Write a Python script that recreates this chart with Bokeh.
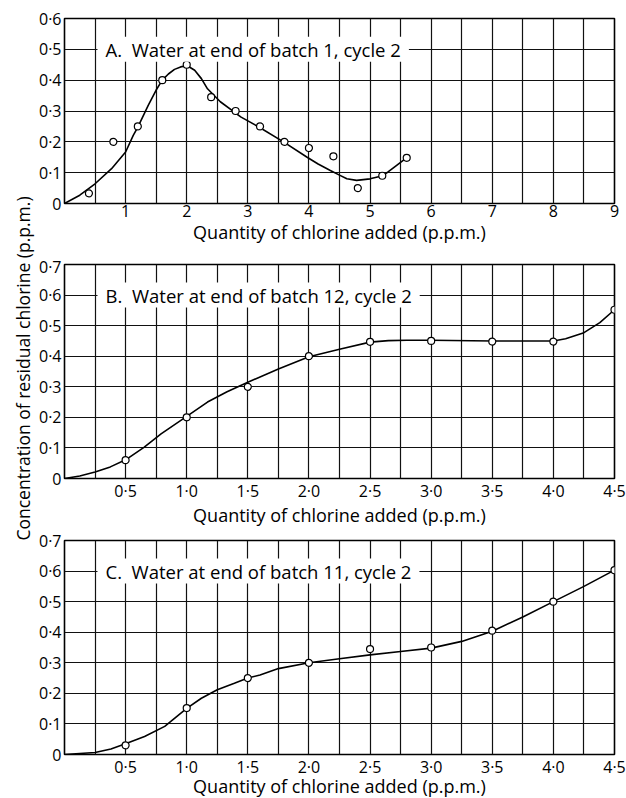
import math
from bokeh.plotting import figure
from bokeh.models import FixedTicker, Label, Range1d
from bokeh.layouts import column, row
from bokeh.embed import file_html
from bokeh.resources import INLINE

FONT = "Open Sans"
TICK_FS = "16px"
LABEL_FS = "18px"
TITLE_FS = "18.5px"
YLABEL_FS = "17.5px"

# ---------------- Data ----------------
# Panel A
a_title = "A.\u00a0 Water at end of batch 1, cycle 2"
a_x_pts = [0.4, 0.8, 1.2, 1.6, 2.0, 2.4, 2.8, 3.2, 3.6, 4.0, 4.4, 4.8, 5.2, 5.6]
a_y_pts = [0.033, 0.20, 0.25, 0.40, 0.45, 0.345, 0.30, 0.25, 0.20, 0.18, 0.153, 0.05, 0.09, 0.148]
a_x_curve = [0.0, 0.25, 0.5, 0.77, 1.0, 1.125, 1.2, 1.37, 1.5, 1.6, 1.7, 1.8, 1.9, 1.975, 2.05,
             2.13, 2.24, 2.34, 2.55, 2.78, 2.89, 3.18, 3.59, 3.97, 4.15, 4.35, 4.5, 4.62, 4.78,
             5.0, 5.19, 5.3, 5.43, 5.59]
a_y_curve = [0.0, 0.027, 0.064, 0.113, 0.167, 0.221, 0.248, 0.318, 0.368, 0.40, 0.42, 0.435,
             0.443, 0.446, 0.442, 0.432, 0.405, 0.372, 0.33, 0.296, 0.28, 0.248, 0.199, 0.150,
             0.128, 0.107, 0.092, 0.080, 0.075, 0.080, 0.089, 0.103, 0.123, 0.147]
a_x_ticks = [1, 2, 3, 4, 5, 6, 7, 8, 9]
a_x_labels = ["1", "2", "3", "4", "5", "6", "7", "8", "9"]
a_y_ticks = [0, 0.1, 0.2, 0.3, 0.4, 0.5, 0.6]
a_y_labels = ["0", "0·1", "0·2", "0·3", "0·4", "0·5", "0·6"]

# Panel B
b_title = "B.\u00a0 Water at end of batch 12, cycle 2"
b_x_pts = [0.5, 1.0, 1.5, 2.0, 2.5, 3.0, 3.5, 4.0, 4.5]
b_y_pts = [0.06, 0.20, 0.30, 0.40, 0.447, 0.45, 0.448, 0.448, 0.552]
b_x_curve = [0.0, 0.125, 0.25, 0.375, 0.5, 0.65, 0.79, 1.0, 1.17, 1.33, 1.5, 1.75, 2.0, 2.25,
             2.5, 2.65, 2.8, 3.0, 3.5, 4.0, 4.1, 4.25, 4.38, 4.5]
b_y_curve = [0.0, 0.008, 0.021, 0.038, 0.061, 0.102, 0.146, 0.203, 0.25, 0.284, 0.315, 0.358,
             0.398, 0.423, 0.446, 0.451, 0.452, 0.452, 0.45, 0.45, 0.457, 0.477, 0.51, 0.552]

# Panel C
c_title = "C.\u00a0 Water at end of batch 11, cycle 2"
c_x_pts = [0.5, 1.0, 1.5, 2.0, 2.5, 3.0, 3.5, 4.0, 4.5]
c_y_pts = [0.03, 0.152, 0.25, 0.30, 0.345, 0.35, 0.405, 0.50, 0.603]
c_x_curve = [0.0, 0.25, 0.38, 0.51, 0.655, 0.82, 1.0, 1.12, 1.25, 1.39, 1.5, 1.6, 1.75, 2.0,
             2.25, 2.5, 2.75, 3.0, 3.25, 3.5, 3.75, 4.0, 4.25, 4.5]
c_y_curve = [0.0, 0.0065, 0.018, 0.037, 0.059, 0.092, 0.151, 0.184, 0.212, 0.233, 0.25, 0.26,
             0.281, 0.30, 0.313, 0.326, 0.337, 0.348, 0.37, 0.403, 0.45, 0.50, 0.55, 0.603]

bc_x_ticks = [0.5, 1.0, 1.5, 2.0, 2.5, 3.0, 3.5, 4.0, 4.5]
bc_x_labels = ["0·5", "1·0", "1·5", "2·0", "2·5", "3·0", "3·5", "4·0", "4·5"]
bc_y_ticks = [0, 0.1, 0.2, 0.3, 0.4, 0.5, 0.6, 0.7]
bc_y_labels = ["0", "0·1", "0·2", "0·3", "0·4", "0·5", "0·6", "0·7"]

a_x_grid = [0.5 * i for i in range(1, 18)]
bc_x_grid = [0.25 * i for i in range(1, 18)]

x_axis_label = "Quantity of chlorine added (p.p.m.)"
y_axis_label = "Concentration of residual chlorine (p.p.m.)"


def make_panel(xmax, ymax, frame_h, top, bottom, x_ticks, x_labels, y_ticks, y_labels,
               x_grid, title, title_x, title_y, xs, ys, cx, cy, label_standoff):
    p = figure(frame_width=550, frame_height=frame_h,
               x_range=Range1d(0, xmax), y_range=Range1d(0, ymax),
               min_border_left=28, min_border_right=13,
               min_border_top=top, min_border_bottom=bottom,
               output_backend="svg", toolbar_location=None,
               background_fill_color="white", border_fill_color="white")
    p.outline_line_color = "black"
    p.outline_line_width = 1.6

    p.xaxis.ticker = FixedTicker(ticks=x_ticks)
    p.xaxis.major_label_overrides = {t: l for t, l in zip(x_ticks, x_labels)}
    p.yaxis.ticker = FixedTicker(ticks=y_ticks)
    p.yaxis.major_label_overrides = {t: l for t, l in zip(y_ticks, y_labels)}

    for ax in (p.xaxis, p.yaxis):
        ax.axis_line_color = None
        ax.major_tick_line_color = None
        ax.minor_tick_line_color = None
        ax.major_tick_out = 0
        ax.major_tick_in = 0
        ax.minor_tick_out = 0
        ax.minor_tick_in = 0
        ax.major_label_text_font = FONT
        ax.major_label_text_font_size = TICK_FS
        ax.major_label_text_color = "black"
        ax.axis_label_text_font = FONT
        ax.axis_label_text_font_size = LABEL_FS
        ax.axis_label_text_font_style = "normal"
        ax.axis_label_text_color = "black"
    p.xaxis.major_label_standoff = 1
    p.yaxis.major_label_standoff = 3
    p.xaxis.axis_label = x_axis_label
    p.xaxis.axis_label_standoff = label_standoff

    p.xgrid.ticker = FixedTicker(ticks=x_grid)
    p.ygrid.ticker = FixedTicker(ticks=y_ticks)
    for g in (p.xgrid, p.ygrid):
        g.grid_line_color = "#111111"
        g.grid_line_width = 1.2

    p.line(cx, cy, line_color="black", line_width=1.6)
    p.scatter(xs, ys, size=7, marker="circle", fill_color="white",
              line_color="black", line_width=1.2)

    p.add_layout(Label(x=title_x, y=title_y, text=title, text_font=FONT,
                       text_font_size=TITLE_FS, text_color="black",
                       text_baseline="middle", text_align="left",
                       background_fill_color="white", padding=(8, 0)))
    return p


pa = make_panel(9, 0.6, 185, 18, 52, a_x_ticks, a_x_labels, a_y_ticks, a_y_labels,
                a_x_grid, a_title, 0.54, 0.5, a_x_pts, a_y_pts, a_x_curve, a_y_curve, 0)
pb = make_panel(4.5, 0.7, 214, 9, 50, bc_x_ticks, bc_x_labels, bc_y_ticks, bc_y_labels,
                bc_x_grid, b_title, 0.27, 0.6, b_x_pts, b_y_pts, b_x_curve, b_y_curve, -2)
pc = make_panel(4.5, 0.7, 214, 11, 45, bc_x_ticks, bc_x_labels, bc_y_ticks, bc_y_labels,
                bc_x_grid, c_title, 0.27, 0.6, c_x_pts, c_y_pts, c_x_curve, c_y_curve, -7)

# shared y-axis label in a narrow strip on the left
lf = figure(width=35, height=798, x_range=Range1d(0, 35), y_range=Range1d(0, 798),
            x_axis_type=None, y_axis_type=None, min_border=0,
            output_backend="svg", toolbar_location=None,
            background_fill_color="white", border_fill_color="white")
lf.outline_line_color = None
lf.grid.visible = False
lf.add_layout(Label(x=22, y=430, text=y_axis_label, angle=math.pi / 2,
                    text_font=FONT, text_font_size=YLABEL_FS, text_color="black",
                    text_align="center", text_baseline="middle"))

layout = row(lf, column(pa, pb, pc, spacing=0), spacing=0)
open("out.html", "w").write(file_html(layout, INLINE))
